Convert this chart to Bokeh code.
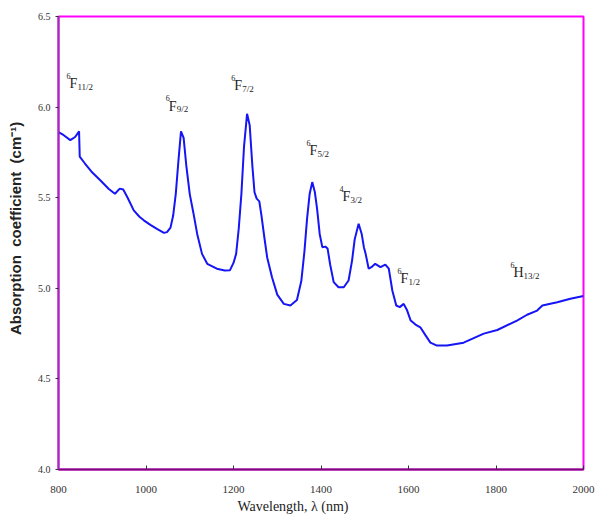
from bokeh.plotting import figure
from bokeh.models import Range1d, FixedTicker, NumeralTickFormatter, ColumnDataSource
from bokeh.core.properties import value
from bokeh.embed import file_html
from bokeh.resources import INLINE

# Absorption spectrum (wavelength in nm, absorption coefficient in cm^-1)
wavelength = [800, 812, 827, 838, 847, 848.5, 860, 875, 896, 915, 929, 940, 948, 958, 972, 985,
              995, 1010, 1025, 1041, 1048, 1056, 1062, 1068, 1074, 1080, 1086, 1092, 1100, 1108,
              1117, 1128, 1140, 1162, 1180, 1192, 1200, 1206, 1212, 1218, 1224, 1231, 1237, 1243,
              1248, 1253, 1259, 1264, 1270, 1277, 1288, 1300, 1315, 1330, 1345, 1355, 1362, 1368,
              1374, 1380, 1386, 1391, 1397, 1403, 1410, 1415, 1421, 1429, 1440, 1452, 1463, 1471,
              1477, 1486, 1493, 1498, 1502, 1509, 1517, 1524, 1536, 1547, 1555, 1563, 1572, 1580,
              1589, 1597, 1605, 1616, 1627, 1639, 1650, 1665, 1688, 1726, 1772, 1803, 1848, 1871,
              1894, 1906, 1940, 1970, 2000]
absorption = [5.862, 5.845, 5.818, 5.835, 5.866, 5.727, 5.690, 5.645, 5.595, 5.548, 5.522, 5.550,
              5.545, 5.500, 5.430, 5.395, 5.375, 5.350, 5.328, 5.306, 5.310, 5.335, 5.400, 5.520,
              5.700, 5.866, 5.830, 5.680, 5.520, 5.420, 5.300, 5.190, 5.135, 5.108, 5.098, 5.100,
              5.140, 5.190, 5.330, 5.520, 5.780, 5.963, 5.900, 5.680, 5.530, 5.495, 5.480, 5.400,
              5.290, 5.170, 5.061, 4.965, 4.914, 4.905, 4.935, 5.040, 5.200, 5.380, 5.520, 5.586,
              5.530, 5.440, 5.300, 5.227, 5.230, 5.220, 5.130, 5.034, 5.006, 5.006, 5.043, 5.153,
              5.270, 5.356, 5.300, 5.227, 5.190, 5.108, 5.120, 5.135, 5.117, 5.131, 5.108, 4.988,
              4.905, 4.896, 4.914, 4.877, 4.822, 4.800, 4.785, 4.740, 4.700, 4.684, 4.684, 4.700,
              4.750, 4.770, 4.822, 4.854, 4.877, 4.905, 4.923, 4.942, 4.958]

# Transition labels
label_x = [818, 1045, 1195, 1367, 1442, 1575, 1833]
label_y = [6.128, 6.006, 6.117, 5.758, 5.504, 5.052, 5.085]
label_sup = ["6", "6", "6", "6", "4", "6", "6"]
label_term = ["F", "F", "F", "F", "F", "F", "H"]
label_sub = ["11/2", "9/2", "7/2", "5/2", "3/2", "1/2", "13/2"]

x_ticks = [800, 1000, 1200, 1400, 1600, 1800, 2000]
y_ticks = [4.0, 4.5, 5.0, 5.5, 6.0, 6.5]

NB = "\u00a0"
x_title = "Wavelength, \u03bb (nm)"
y_title = "Absorption" + NB * 2 + "coefficient" + NB * 2 + "(cm\u207b\u00b9)"

p = figure(width=596, height=520, output_backend="svg", toolbar_location=None,
           x_range=Range1d(800, 2000), y_range=Range1d(4.0, 6.5),
           min_border_left=58, min_border_right=13, min_border_top=16, min_border_bottom=51)
p.grid.visible = False
p.outline_line_color = "#FF00FF"
p.outline_line_width = 2
p.background_fill_color = "white"
p.border_fill_color = "white"

serif = "Liberation Serif"
axis_serif = "serif"

xa = p.xaxis[0]
xa.ticker = FixedTicker(ticks=x_ticks)
xa.major_tick_out = 0
xa.major_tick_in = 4
xa.minor_tick_out = 0
xa.minor_tick_in = 0
xa.major_tick_line_color = "#333333"
xa.axis_line_color = "#7A0A7A"
xa.axis_line_width = 2
xa.major_label_text_font = axis_serif
xa.major_label_text_font_size = "11px"
xa.major_label_text_color = "#333333"
xa.major_label_standoff = 16
xa.axis_label = x_title + NB * 16
xa.axis_label_text_font = axis_serif
xa.axis_label_text_font_style = "normal"
xa.axis_label_text_font_size = "14px"
xa.axis_label_text_color = "#222222"
xa.axis_label_standoff = 3

ya = p.yaxis[0]
ya.ticker = FixedTicker(ticks=y_ticks)
ya.formatter = NumeralTickFormatter(format="0.0")
ya.major_tick_out = 3
ya.major_tick_in = 0
ya.minor_tick_out = 0
ya.minor_tick_in = 0
ya.major_tick_line_color = "#333333"
ya.axis_line_color = "#9A30B8"
ya.axis_line_width = 2
ya.major_label_text_font = axis_serif
ya.major_label_text_font_size = "10px"
ya.major_label_text_color = "#333333"
ya.major_label_standoff = 5
ya.axis_label = NB * 7 + y_title
ya.axis_label_text_font = "Arial"
ya.axis_label_text_font_style = "bold"
ya.axis_label_text_font_size = "15px"
ya.axis_label_text_color = "#222222"
ya.axis_label_standoff = 11

p.line(wavelength, absorption, line_color="#1515F5", line_width=2)

sub_off = [11 if t == "F" else 13 for t in label_term]
src = ColumnDataSource(dict(x=label_x, y=label_y, sup=label_sup, term=label_term,
                            sub=label_sub, sub_off=sub_off))
p.text(x="x", y="y", text="sup", source=src, text_font=value(serif), text_font_size="8px",
       text_color="#222222", text_baseline="alphabetic", text_align="left", y_offset=-8)
p.text(x="x", y="y", text="term", source=src, text_font=value(serif), text_font_size="14px",
       text_color="#222222", text_baseline="alphabetic", text_align="left", x_offset=3)
p.text(x="x", y="y", text="sub", source=src, text_font=value(serif), text_font_size="9px",
       text_color="#222222", text_baseline="alphabetic", text_align="left",
       x_offset="sub_off", y_offset=3)

open("out.html", "w").write(file_html(p, INLINE))
